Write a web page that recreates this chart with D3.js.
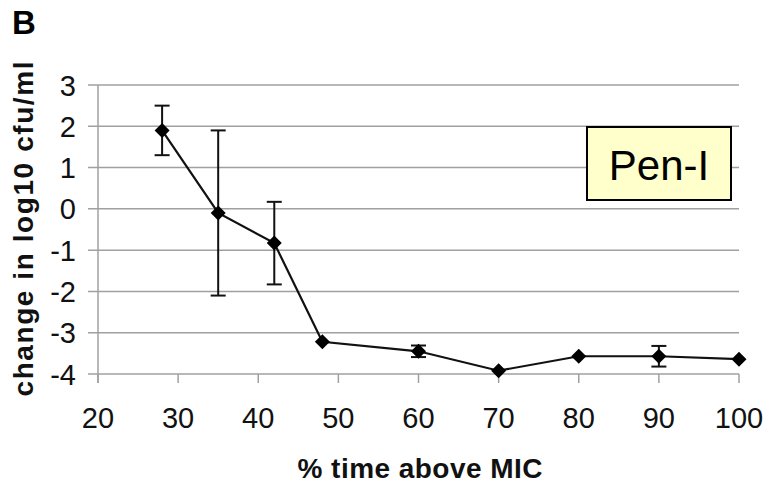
<!DOCTYPE html>
<html>
<head>
<meta charset="utf-8">
<script src="https://cdn.jsdelivr.net/npm/d3@7"></script>
<style>
  html, body { margin: 0; padding: 0; background: #fff; }
  svg { display: block; font-family: "Liberation Sans", Arial, Helvetica, sans-serif; }
</style>
</head>
<body>
<svg id="chart" width="767" height="487"></svg>
<script>
// ---- data ----
const timeAboveMIC = [28, 35, 42, 48, 60, 70, 80, 90, 100];
const logChange    = [1.9, -0.1, -0.83, -3.22, -3.45, -3.92, -3.57, -3.57, -3.64];
const errorSize    = [0.6, 2.0, 1.0, 0, 0.14, 0, 0, 0.25, 0];
const xTicks = [20, 30, 40, 50, 60, 70, 80, 90, 100];
const yTicks = [3, 2, 1, 0, -1, -2, -3, -4];
const panelLabel = "B";
const seriesLabel = "Pen-I";
const xTitle = "% time above MIC";
const yTitle = "change in log10 cfu/ml";

// ---- layout ----
const svg = d3.select("#chart");
const x = d3.scaleLinear().domain([20, 100]).range([98, 739]);
const y = d3.scaleLinear().domain([-4, 3]).range([374, 85]);
const gridColor = "#a0a0a0";

// gridlines (with left tick extension)
svg.append("g").selectAll("line").data(yTicks).join("line")
  .attr("x1", 88).attr("x2", x(100))
  .attr("y1", d => y(d)).attr("y2", d => y(d))
  .attr("stroke", gridColor).attr("stroke-width", 1.5);

// y axis line
svg.append("line")
  .attr("x1", x(20)).attr("x2", x(20))
  .attr("y1", y(3)).attr("y2", y(-4) + 9)
  .attr("stroke", gridColor).attr("stroke-width", 1.5);

// x ticks
svg.append("g").selectAll("line").data(xTicks).join("line")
  .attr("x1", d => x(d)).attr("x2", d => x(d))
  .attr("y1", y(-4)).attr("y2", y(-4) + 9)
  .attr("stroke", gridColor).attr("stroke-width", 1.5);

// y tick labels
svg.append("g").selectAll("text").data(yTicks).join("text")
  .attr("x", 76).attr("y", d => y(d) + 10.5)
  .attr("text-anchor", "end")
  .attr("font-size", 29).attr("fill", "#111")
  .text(d => d);

// x tick labels
svg.append("g").selectAll("text").data(xTicks).join("text")
  .attr("x", d => x(d)).attr("y", 428)
  .attr("text-anchor", "middle")
  .attr("font-size", 29).attr("fill", "#111")
  .text(d => d);

// axis titles
svg.append("text")
  .attr("x", 420).attr("y", 478)
  .attr("text-anchor", "middle")
  .attr("font-size", 28).attr("font-weight", "bold").attr("fill", "#111")
  .attr("textLength", 245).attr("lengthAdjust", "spacing")
  .text(xTitle);

svg.append("text")
  .attr("transform", "translate(33,229) rotate(-90)")
  .attr("text-anchor", "middle")
  .attr("font-size", 28).attr("font-weight", "bold").attr("fill", "#111")
  .attr("textLength", 335).attr("lengthAdjust", "spacing")
  .text(yTitle);

// panel label
svg.append("text")
  .attr("x", 12).attr("y", 34)
  .attr("font-size", 33).attr("font-weight", "bold").attr("fill", "#000")
  .text(panelLabel);

// data
const pts = timeAboveMIC.map((t, i) => ({ t, v: logChange[i], e: errorSize[i] }));

// error bars
const eb = svg.append("g").attr("stroke", "#111").attr("stroke-width", 2);
pts.filter(d => d.e > 0).forEach(d => {
  eb.append("line").attr("x1", x(d.t)).attr("x2", x(d.t))
    .attr("y1", y(d.v + d.e)).attr("y2", y(d.v - d.e));
  [d.v + d.e, d.v - d.e].forEach(v => {
    eb.append("line").attr("x1", x(d.t) - 7.5).attr("x2", x(d.t) + 7.5)
      .attr("y1", y(v)).attr("y2", y(v));
  });
});

// line
svg.append("path").datum(pts)
  .attr("fill", "none").attr("stroke", "#111").attr("stroke-width", 2.2)
  .attr("d", d3.line().x(d => x(d.t)).y(d => y(d.v)));

// diamond markers
svg.append("g").selectAll("path").data(pts).join("path")
  .attr("transform", d => `translate(${x(d.t)},${y(d.v)})`)
  .attr("d", "M0,-7.5 L7.5,0 L0,7.5 L-7.5,0 Z")
  .attr("fill", "#000");

// Pen-I label box
const bx = svg.append("g");
bx.append("rect")
  .attr("x", 587).attr("y", 127).attr("width", 144).attr("height", 73)
  .attr("fill", "#ffffcc").attr("stroke", "#000").attr("stroke-width", 2);
bx.append("text")
  .attr("x", 659).attr("y", 180)
  .attr("text-anchor", "middle")
  .attr("font-size", 42).attr("fill", "#000")
  .text(seriesLabel);
</script>
</body>
</html>
